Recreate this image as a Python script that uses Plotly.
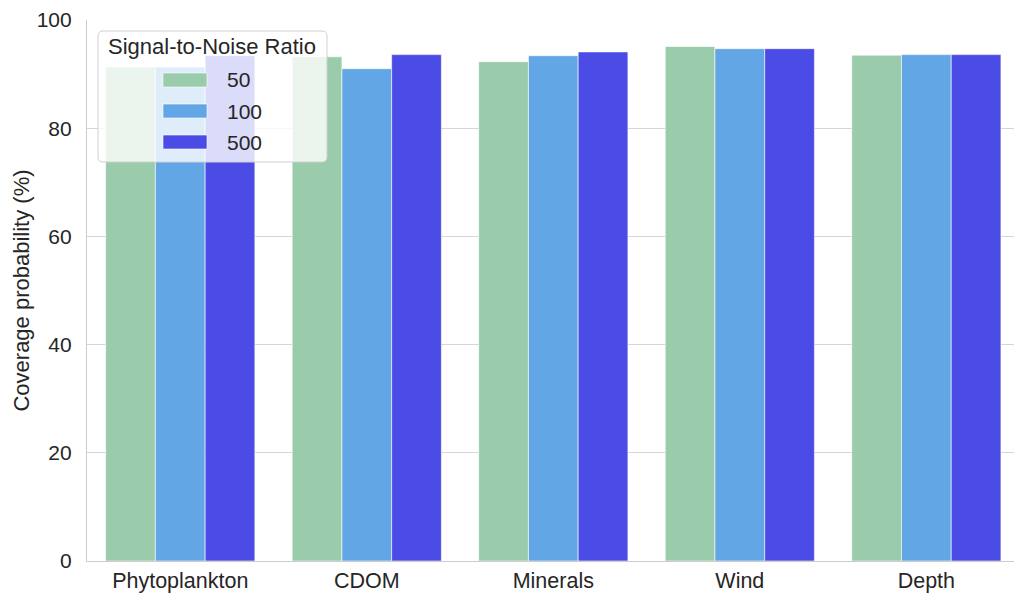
import plotly.graph_objects as go

categories = ["Phytoplankton", "CDOM", "Minerals", "Wind", "Depth"]
snr_labels = ["50", "100", "500"]
snr_50 = [91.3, 93.2, 92.3, 95.1, 93.5]
snr_100 = [91.3, 91.0, 93.4, 94.7, 93.6]
snr_500 = [93.4, 93.6, 94.1, 94.7, 93.6]
colors = ["#9ACBAA", "#62A6E6", "#4B4BE6"]
y_ticks = [0, 20, 40, 60, 80, 100]

FONT = "Liberation Sans, Arial, sans-serif"
W, H = 1014, 594
L, R, T, B = 87, 0, 20, 33
PW, PH = W - L - R, H - T - B

def px(x):
    return (x - L) / PW

def py(y):
    return (H - B - y) / PH

fig = go.Figure()
for name, vals, col in zip(snr_labels, [snr_50, snr_100, snr_500], colors):
    fig.add_trace(go.Bar(
        x=categories, y=vals, name=name,
        marker=dict(color=col, line=dict(color="rgba(255,255,255,0.6)", width=1)),
        showlegend=False,
    ))

# custom legend (matplotlib-style)
x0, x1, y0, y1 = px(98), px(327), py(31), py(162)
rx, ry = 5 / PW, 5 / PH
path = (f"M{x0+rx},{y0} L{x1-rx},{y0} Q{x1},{y0} {x1},{y0-ry} "
        f"L{x1},{y1+ry} Q{x1},{y1} {x1-rx},{y1} L{x0+rx},{y1} "
        f"Q{x0},{y1} {x0},{y1+ry} L{x0},{y0-ry} Q{x0},{y0} {x0+rx},{y0} Z")
shapes = [dict(type="path", path=path, xref="paper", yref="paper",
               fillcolor="rgba(255,255,255,0.8)", line=dict(color="#d0d0d0", width=1),
               layer="above")]
annotations = [dict(text="Signal-to-Noise Ratio", x=px(106), y=py(47), xref="paper", yref="paper",
                    xanchor="left", yanchor="middle", showarrow=False,
                    font=dict(family=FONT, size=22, color="#262626"))]
centers = [80, 111, 142]
for lab, col, cy in zip(snr_labels, colors, centers):
    shapes.append(dict(type="rect", xref="paper", yref="paper",
                       x0=px(163), x1=px(207), y0=py(cy - 7), y1=py(cy + 7),
                       fillcolor=col, line=dict(color="rgba(255,255,255,0.6)", width=1),
                       layer="above"))
    annotations.append(dict(text=lab, x=px(225), y=py(cy), xref="paper", yref="paper",
                            xanchor="left", yanchor="middle", showarrow=False,
                            font=dict(family=FONT, size=21, color="#262626")))

fig.update_layout(
    width=W, height=H,
    margin=dict(l=L, r=R, t=T, b=B, autoexpand=False),
    paper_bgcolor="white", plot_bgcolor="white",
    barmode="group", bargap=0.2, bargroupgap=0,
    font=dict(family=FONT, size=21, color="#262626"),
    shapes=shapes, annotations=annotations,
    showlegend=False,
)
fig.update_xaxes(
    range=[-0.5, 4.47], showgrid=False, showline=True, linecolor="#cccccc", linewidth=1.2,
    ticks="", ticklabelstandoff=0, tickfont=dict(size=21.5, color="#262626"), automargin=False,
)
fig.update_yaxes(
    range=[0, 100], tickvals=y_ticks, showgrid=True, gridcolor="#d5d5d5", gridwidth=1,
    showline=True, linecolor="#cccccc", linewidth=1.2, mirror=True, zeroline=False,
    ticks="", ticklabelstandoff=10, tickfont=dict(size=21, color="#262626"),
    title=dict(text="Coverage probability (%)", font=dict(size=22, color="#262626"), standoff=0),
    automargin=False,
)

fig.write_html("out.html", config={"displayModeBar": False},
               post_script="document.body.style.margin='0';document.body.style.padding='0';")
